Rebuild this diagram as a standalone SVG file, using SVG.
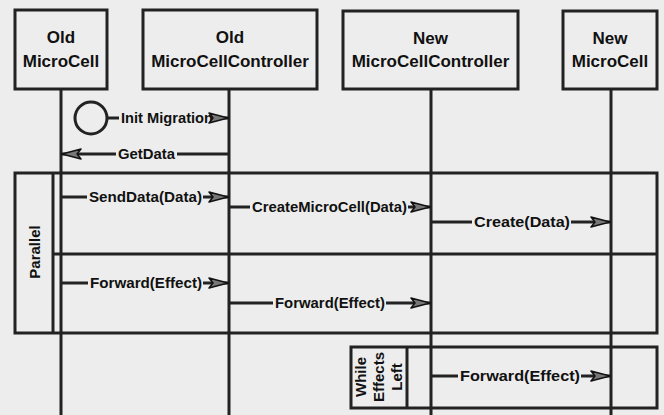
<svg xmlns="http://www.w3.org/2000/svg" width="664" height="415" viewBox="0 0 664 415">
<defs>
<style>
.ln{stroke:#222;stroke-width:3;fill:none}
.box{stroke:#222;stroke-width:3;fill:none}
.hd{font-family:"Liberation Sans",Arial,sans-serif;font-weight:bold;font-size:17px;fill:#111;text-anchor:middle}
.lb{font-family:"Liberation Sans",Arial,sans-serif;font-weight:bold;font-size:15.5px;fill:#111}
.fl{font-family:"Liberation Sans",Arial,sans-serif;font-weight:bold;font-size:15px;fill:#111;text-anchor:middle}
</style>
<marker id="ah" markerUnits="userSpaceOnUse" markerWidth="22" markerHeight="12" viewBox="0 0 22 12" refX="20" refY="6" orient="auto">
<path d="M1,1 L20,6 L1,11 L5,6 Z" fill="#777" stroke="#111" stroke-width="1.5" stroke-linejoin="round"/>
</marker>
</defs>
<rect width="664" height="415" fill="#ededed"/>
<g id="lifelines">
<line class="ln" x1="61" y1="89" x2="61" y2="415"/>
<line class="ln" x1="229" y1="89" x2="229" y2="415"/>
<line class="ln" x1="431" y1="89" x2="431" y2="415"/>
<line class="ln" x1="611" y1="89" x2="611" y2="415"/>
</g>
<g id="old-microcell">
<rect class="box" x="15" y="10" width="92" height="79"/>
<text class="hd" x="61" y="43">Old</text>
<text class="hd" x="61" y="67">MicroCell</text>
</g>
<g id="old-controller">
<rect class="box" x="143" y="10" width="174" height="79"/>
<text class="hd" x="230" y="43">Old</text>
<text class="hd" x="230" y="67">MicroCellController</text>
</g>
<g id="new-controller">
<rect class="box" x="343" y="11" width="175" height="78"/>
<text class="hd" x="430.5" y="44">New</text>
<text class="hd" x="430.5" y="67">MicroCellController</text>
</g>
<g id="new-microcell">
<rect class="box" x="563" y="11" width="94" height="78"/>
<text class="hd" x="610" y="44">New</text>
<text class="hd" x="610" y="67">MicroCell</text>
</g>
<g id="start">
<circle cx="91" cy="118" r="16" fill="#ededed" stroke="#222" stroke-width="3"/>
</g>
<g id="parallel-frame">
<rect class="box" x="15" y="173" width="642" height="160"/>
<line class="ln" x1="53" y1="173" x2="53" y2="333"/>
<line class="ln" x1="53" y1="254" x2="657" y2="254"/>
<text class="fl" transform="translate(40,252) rotate(-90)">Parallel</text>
</g>
<g id="while-frame">
<rect class="box" x="351" y="347" width="306" height="61"/>
<line class="ln" x1="407" y1="347" x2="407" y2="408"/>
<text class="fl" transform="translate(366,377) rotate(-90)">While</text>
<text class="fl" transform="translate(384,377) rotate(-90)">Effects</text>
<text class="fl" transform="translate(402,377) rotate(-90)">Left</text>
</g>
<g id="connectors">
<line class="ln" x1="107" y1="118" x2="119" y2="118"/>
<text class="lb" x="121" y="123" textLength="92" lengthAdjust="spacingAndGlyphs">Init Migration</text>
<line class="ln" x1="212" y1="118" x2="228" y2="118" marker-end="url(#ah)"/>

<line class="ln" x1="229" y1="154" x2="177" y2="154"/>
<text class="lb" x="118" y="159" textLength="57" lengthAdjust="spacingAndGlyphs">GetData</text>
<line class="ln" x1="116" y1="154" x2="62" y2="154" marker-end="url(#ah)"/>

<line class="ln" x1="62" y1="197" x2="87" y2="197"/>
<text class="lb" x="89" y="202" textLength="113" lengthAdjust="spacingAndGlyphs">SendData(Data)</text>
<line class="ln" x1="203" y1="197" x2="228" y2="197" marker-end="url(#ah)"/>

<line class="ln" x1="230" y1="207" x2="250" y2="207"/>
<text class="lb" x="252" y="212" textLength="155" lengthAdjust="spacingAndGlyphs">CreateMicroCell(Data)</text>
<line class="ln" x1="408" y1="207" x2="430" y2="207" marker-end="url(#ah)"/>

<line class="ln" x1="432" y1="222" x2="472" y2="222"/>
<text class="lb" x="474" y="227" textLength="96" lengthAdjust="spacingAndGlyphs">Create(Data)</text>
<line class="ln" x1="571" y1="222" x2="610" y2="222" marker-end="url(#ah)"/>

<line class="ln" x1="62" y1="283" x2="88" y2="283"/>
<text class="lb" x="90" y="288" textLength="112" lengthAdjust="spacingAndGlyphs">Forward(Effect)</text>
<line class="ln" x1="203" y1="283" x2="228" y2="283" marker-end="url(#ah)"/>

<line class="ln" x1="230" y1="303" x2="273" y2="303"/>
<text class="lb" x="275" y="308" textLength="110" lengthAdjust="spacingAndGlyphs">Forward(Effect)</text>
<line class="ln" x1="386" y1="303" x2="430" y2="303" marker-end="url(#ah)"/>

<line class="ln" x1="432" y1="376" x2="458" y2="376"/>
<text class="lb" x="460" y="381" textLength="120" lengthAdjust="spacingAndGlyphs">Forward(Effect)</text>
<line class="ln" x1="581" y1="376" x2="610" y2="376" marker-end="url(#ah)"/>
</g>
</svg>
